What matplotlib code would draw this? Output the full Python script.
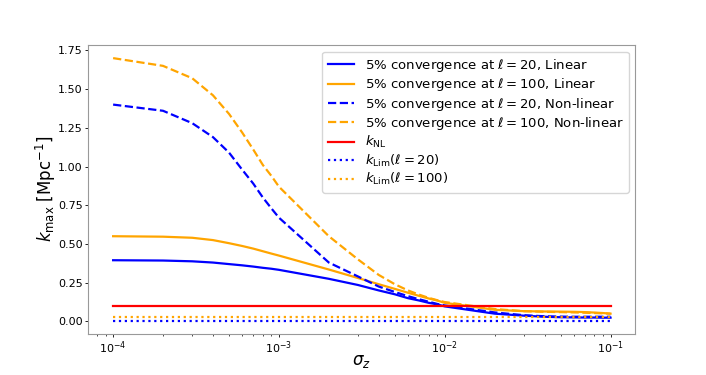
import numpy as np
import matplotlib
matplotlib.use("Agg")
from matplotlib import pyplot as plt

# sigma_z grid (1..9 per decade)
sigma_z = [1e-4, 2e-4, 3e-4, 4e-4, 5e-4, 6e-4, 7e-4, 8e-4, 9e-4,
           1e-3, 2e-3, 3e-3, 4e-3, 5e-3, 6e-3, 7e-3, 8e-3, 9e-3,
           1e-2, 2e-2, 3e-2, 4e-2, 5e-2, 6e-2, 7e-2, 8e-2, 9e-2, 1e-1]

# k_max values
lin_l20 = [0.395, 0.393, 0.388, 0.380, 0.370, 0.362, 0.354, 0.346, 0.340,
           0.333, 0.275, 0.235, 0.200, 0.175, 0.150, 0.135, 0.120, 0.110,
           0.097, 0.050, 0.037, 0.030, 0.027, 0.026, 0.025, 0.025, 0.024, 0.024]
lin_l100 = [0.550, 0.547, 0.540, 0.525, 0.505, 0.487, 0.470, 0.453, 0.438,
            0.425, 0.335, 0.280, 0.240, 0.210, 0.185, 0.165, 0.148, 0.135,
            0.120, 0.075, 0.066, 0.064, 0.063, 0.062, 0.060, 0.057, 0.054, 0.050]
nl_l20 = [1.40, 1.36, 1.28, 1.19, 1.09, 0.98, 0.89, 0.80, 0.73,
          0.67, 0.38, 0.29, 0.225, 0.190, 0.163, 0.143, 0.127, 0.113,
          0.103, 0.058, 0.040, 0.033, 0.031, 0.030, 0.030, 0.030, 0.030, 0.030]
nl_l100 = [1.70, 1.65, 1.57, 1.46, 1.34, 1.22, 1.11, 1.01, 0.94,
           0.87, 0.55, 0.40, 0.30, 0.24, 0.200, 0.173, 0.152, 0.137,
           0.125, 0.080, 0.066, 0.062, 0.060, 0.058, 0.056, 0.054, 0.052, 0.050]
k_nl = 0.10
k_lim_l20 = 0.005
k_lim_l100 = 0.027

fig, ax = plt.subplots(figsize=(7.06, 3.75), dpi=100)

lw = 1.6
ax.plot(sigma_z, lin_l20, color="blue", lw=lw, label=r"5% convergence at $\ell=20$, Linear")
ax.plot(sigma_z, lin_l100, color="orange", lw=lw, label=r"5% convergence at $\ell=100$, Linear")
ax.plot(sigma_z, nl_l20, color="blue", lw=lw, ls="--", label=r"5% convergence at $\ell=20$, Non-linear")
ax.plot(sigma_z, nl_l100, color="orange", lw=lw, ls="--", label=r"5% convergence at $\ell=100$, Non-linear")
ax.plot(sigma_z, [k_nl] * len(sigma_z), color="red", lw=lw, label=r"$k_{\rm NL}$")
ax.plot(sigma_z, [k_lim_l20] * len(sigma_z), color="blue", lw=lw, ls=":", label=r"$k_{\rm Lim}(\ell=20)$")
ax.plot(sigma_z, [k_lim_l100] * len(sigma_z), color="orange", lw=lw, ls=":", label=r"$k_{\rm Lim}(\ell=100)$")

ax.set_xscale("log")
ax.set_xlabel(r"$\sigma_z$", fontsize=12, labelpad=-3)
ax.set_ylabel(r"$k_{\rm max}$ [Mpc$^{-1}$]", fontsize=12, labelpad=0)
ax.tick_params(which="major", labelsize=8, length=2.5, width=0.6, pad=1.5)
ax.tick_params(which="minor", length=1.5, width=0.5)
for s in ax.spines.values():
    s.set_color("#999999")

ax.legend(loc="upper right", fontsize=9.5, labelspacing=0.18)

plt.savefig("out.png", dpi=100)
